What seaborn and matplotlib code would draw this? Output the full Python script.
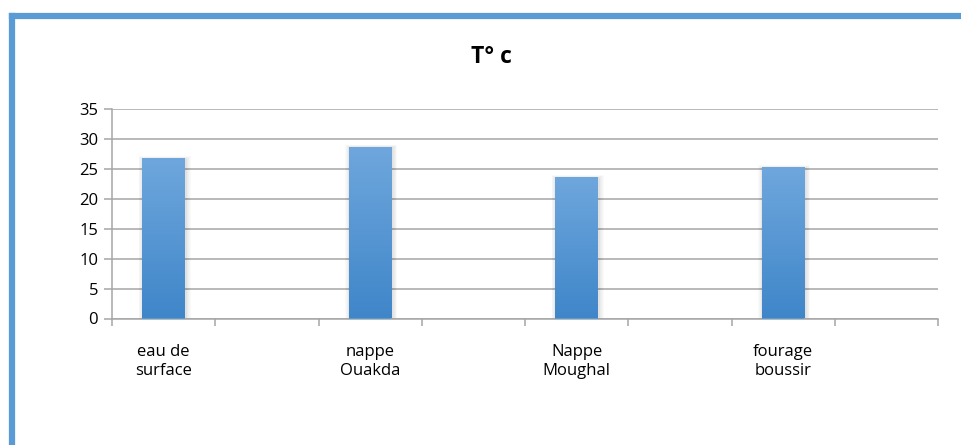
import numpy as np
import pandas as pd
import matplotlib
matplotlib.use("Agg")
import matplotlib.pyplot as plt
from matplotlib.patches import Rectangle
from matplotlib.colors import LinearSegmentedColormap
from matplotlib.lines import Line2D
import seaborn as sns

# Water temperature per sampling site
sites = ["eau de\nsurface", "nappe\nOuakda", "Nappe\nMoughal", "fourage\nboussir"]
temps = [26.8, 28.7, 23.6, 25.3]
y_ticks = [0, 5, 10, 15, 20, 25, 30, 35]
title = "T° c"

sns.set_theme(style="white")
plt.rcParams["font.family"] = ["Open Sans", "DejaVu Sans"]

# each site is followed by an empty category slot
order = []
for i, s in enumerate(sites):
    order.append(s)
    order.append(" " * (i + 1))

df = pd.DataFrame({"site": sites, "temp": temps})

W, H, DPI = 961, 445, 100
fig = plt.figure(figsize=(W / DPI, H / DPI), dpi=DPI)
fig.patch.set_facecolor("white")
ax = fig.add_axes([112 / W, 1 - 318.5 / H, (938 - 112) / W, (318.5 - 109) / H])

sns.barplot(data=df, x="site", y="temp", order=order, color="#5B9BD5",
            saturation=1, width=0.41, ax=ax, zorder=3, linewidth=0,
            edgecolor="none")

ax.set_xlim(-0.5, len(order) - 0.5)
ax.set_ylim(0, 35)
ax.set_yticks(y_ticks)
ax.set_yticklabels([str(v) for v in y_ticks])
ax.grid(axis="y", color="#A6A6A6", linewidth=1.1, zorder=0)
ax.grid(axis="x", visible=False)

# gradient fill and soft shadow for each bar
cmap = LinearSegmentedColormap.from_list("bar", ["#3F86C9", "#6FA7DD"])
grad = np.linspace(0, 1, 256).reshape(-1, 1)
for p in list(ax.patches):
    x0, y0 = p.get_x(), p.get_y()
    w, h = p.get_width(), p.get_height()
    if h <= 0:
        continue
    dx = w / 42.0
    dy = 35 / 209.5
    for k in range(1, 7):
        ax.add_patch(Rectangle((x0 - k * dx * 0.8 + dx, y0), w + 2 * k * dx * 0.8,
                               h - dy + k * dy * 0.5, facecolor="#000000",
                               alpha=0.02, edgecolor="none", zorder=2))
    im = ax.imshow(grad, cmap=cmap, aspect="auto", origin="lower",
                   extent=(x0, x0 + w, y0, y0 + h), zorder=4)
    im.set_clip_path(p)
ax.set_xlim(-0.5, len(order) - 0.5)
ax.set_ylim(0, 35)

# labels under each site, boundary ticks between slots
ax.set_xticks([order.index(s) for s in sites])
ax.set_xticklabels(sites, linespacing=1.3)
ax.set_xticks(np.arange(-0.5, len(order), 1.0), minor=True)
ax.tick_params(axis="x", which="major", length=0, pad=18, labelsize=12, colors="#000000")
ax.tick_params(axis="x", which="minor", length=5, width=1.1, color="#A6A6A6", bottom=True)
ax.tick_params(axis="y", which="major", length=6, width=1.1, color="#A6A6A6", pad=4,
               labelsize=12, colors="#000000", left=True)
ax.set_xlabel("")
ax.set_ylabel("")

for side in ["top", "right"]:
    ax.spines[side].set_visible(False)
for side in ["left", "bottom"]:
    ax.spines[side].set_visible(True)
    ax.spines[side].set_color("#A6A6A6")
    ax.spines[side].set_linewidth(1.1)

fig.text(491 / W, 1 - 57 / H, title, ha="center", va="center",
         fontsize=16.5, fontweight="bold", color="#000000")

# chart frame (left and top edges)
frame_kw = dict(color="#5B9BD5", linewidth=4.5, solid_capstyle="projecting",
                transform=None, figure=fig)
fig.lines.append(Line2D([12, 12], [0, H - 16], **frame_kw))
fig.lines.append(Line2D([12, W], [H - 16, H - 16], **frame_kw))

fig.savefig("out.png", dpi=DPI, facecolor="white")
